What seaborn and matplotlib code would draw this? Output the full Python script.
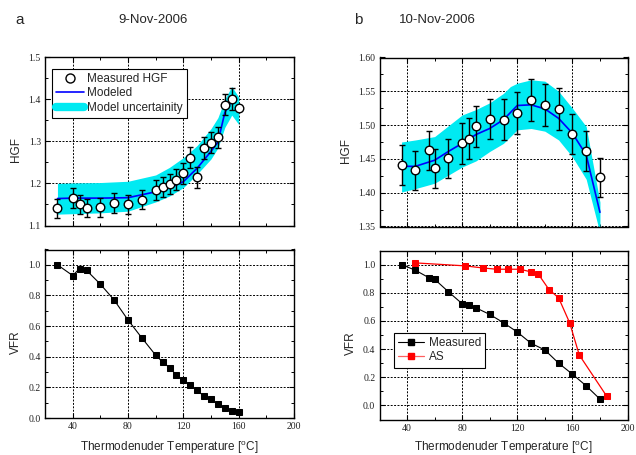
import matplotlib
matplotlib.use("Agg")
import matplotlib.pyplot as plt
import seaborn as sns
from matplotlib.ticker import MultipleLocator, FormatStrFormatter
from matplotlib.lines import Line2D

# ---------------- data ----------------
# Panel a (9-Nov-2006)
temp_a = [29, 40, 45, 50, 60, 70, 80, 90, 100, 105, 110, 115, 120, 125, 130, 135, 140, 145, 150, 155, 160]
hgf_a = [1.141, 1.165, 1.150, 1.142, 1.143, 1.153, 1.150, 1.161, 1.184, 1.191, 1.198, 1.209, 1.224,
         1.261, 1.214, 1.284, 1.297, 1.310, 1.387, 1.400, 1.380]
hgf_err_a = [0.023, 0.024, 0.023, 0.022, 0.022, 0.023, 0.023, 0.023, 0.024, 0.024, 0.024, 0.024, 0.025,
             0.025, 0.024, 0.025, 0.025, 0.025, 0.025, 0.026, 0.0]
vfr_a = [1.000, 0.930, 0.975, 0.964, 0.874, 0.770, 0.640, 0.523, 0.410, 0.366, 0.329, 0.280, 0.246,
         0.213, 0.180, 0.142, 0.121, 0.090, 0.068, 0.047, 0.037]
model_temp_a = [29, 40, 60, 80, 100, 110, 120, 130, 140, 145, 150, 155, 156]
model_a = [1.164, 1.165, 1.165, 1.166, 1.180, 1.189, 1.204, 1.236, 1.276, 1.298, 1.368, 1.396, 1.393]
band_temp_a = [29, 40, 60, 80, 100, 110, 120, 130, 140, 145, 150, 155, 160]
band_hi_a = [1.200, 1.201, 1.202, 1.205, 1.220, 1.238, 1.261, 1.290, 1.330, 1.356, 1.400, 1.430, 1.405]
band_lo_a = [1.127, 1.128, 1.130, 1.134, 1.156, 1.170, 1.190, 1.222, 1.258, 1.284, 1.333, 1.362, 1.340]

# Panel b (10-Nov-2006)
temp_b = [36, 46, 56, 60, 70, 80, 85, 90, 100, 110, 120, 130, 140, 150, 160, 170, 180]
hgf_b = [1.441, 1.433, 1.463, 1.436, 1.451, 1.473, 1.480, 1.498, 1.509, 1.508, 1.518, 1.537, 1.530,
         1.524, 1.487, 1.462, 1.423]
hgf_err_b = [0.029, 0.029, 0.029, 0.029, 0.029, 0.030, 0.030, 0.030, 0.030, 0.030, 0.031, 0.031, 0.031,
             0.031, 0.030, 0.030, 0.029]
vfr_meas_b = [1.000, 0.960, 0.906, 0.896, 0.807, 0.722, 0.710, 0.693, 0.646, 0.587, 0.521, 0.441, 0.394,
              0.300, 0.222, 0.139, 0.045]
as_temp_b = [46, 82, 95, 105, 113, 122, 130, 135, 143, 150, 158, 165, 185]
as_vfr_b = [1.012, 0.991, 0.976, 0.967, 0.967, 0.967, 0.948, 0.936, 0.823, 0.764, 0.587, 0.358, 0.064]
model_temp_b = [36, 46, 60, 70, 80, 90, 100, 110, 120, 130, 140, 150, 160, 170, 180]
model_b = [1.439, 1.439, 1.448, 1.461, 1.473, 1.486, 1.495, 1.508, 1.529, 1.530, 1.524, 1.510, 1.488,
           1.456, 1.371]
band_temp_b = [36, 46, 60, 80, 90, 100, 110, 115, 120, 130, 140, 150, 160, 170, 180]
band_hi_b = [1.475, 1.478, 1.483, 1.515, 1.523, 1.533, 1.547, 1.557, 1.562, 1.567, 1.565, 1.550, 1.525,
             1.498, 1.386]
band_lo_b = [1.401, 1.406, 1.414, 1.438, 1.447, 1.461, 1.473, 1.483, 1.493, 1.495, 1.491, 1.478, 1.453,
             1.420, 1.340]

panel_letters = ["a", "b"]
panel_dates = ["9-Nov-2006", "10-Nov-2006"]
xlabel_text = "Thermodenuder Temperature [$^{o}$C]"
legend_a_labels = ["Measured HGF", "Modeled", "Model uncertainity"]
legend_b_labels = ["Measured", "AS"]

# ---------------- style ----------------
sns.set_style("ticks")
plt.rcParams['font.family'] = ['Liberation Sans', 'DejaVu Sans']
plt.rcParams['mathtext.default'] = 'regular'

CYAN = "#00eaf2"
BLUE = "#0000ff"
RED = "#ff0000"

W, H = 636, 455
fig = plt.figure(figsize=(W / 100, H / 100), dpi=100)


def rect(l, t, w, h):
    return [l / W, 1 - (t + h) / H, w / W, h / H]


ax_a1 = fig.add_axes(rect(45, 57, 249, 168.5))
ax_a2 = fig.add_axes(rect(45, 249.5, 249, 168.5))
ax_b1 = fig.add_axes(rect(379.5, 57.5, 248, 169))
ax_b2 = fig.add_axes(rect(379.5, 250.5, 248, 169))


def style(ax, ylim, ymaj, ymin, fmt, show_x):
    ax.set_xlim(20, 200)
    ax.set_ylim(*ylim)
    ax.xaxis.set_major_locator(MultipleLocator(40))
    ax.xaxis.set_minor_locator(MultipleLocator(20))
    ax.yaxis.set_major_locator(MultipleLocator(ymaj))
    ax.yaxis.set_minor_locator(MultipleLocator(ymin))
    ax.yaxis.set_major_formatter(FormatStrFormatter(fmt))
    ax.tick_params(which='both', direction='in', top=True, right=True, color='black',
                   labelsize=7, labelfontfamily='Liberation Serif', labelcolor='#222222')
    ax.tick_params(which='major', length=3.5, width=0.8, pad=3)
    ax.tick_params(which='minor', length=2, width=0.7)
    if not show_x:
        ax.tick_params(labelbottom=False)
    ax.grid(True, which='major', color='black', linestyle=(0, (2, 1.5)), linewidth=0.7)
    ax.set_axisbelow(True)
    for s in ax.spines.values():
        s.set_color('black')
        s.set_linewidth(1.0)


style(ax_a1, (1.1, 1.5), 0.1, 0.05, '%.1f', False)
style(ax_a2, (0.0, 1.1), 0.2, 0.1, '%.1f', True)
style(ax_b1, (1.35, 1.60), 0.05, 0.025, '%.2f', False)
style(ax_b2, (-0.1, 1.1), 0.2, 0.1, '%.1f', True)

# ---------------- panel a, HGF ----------------
ax_a1.fill_between(band_temp_a, band_lo_a, band_hi_a, color=CYAN, lw=0, zorder=1)
sns.lineplot(x=model_temp_a, y=model_a, color=BLUE, lw=1.2, ax=ax_a1, sort=False,
             estimator=None, zorder=2)
ax_a1.errorbar(temp_a, hgf_a, yerr=hgf_err_a, fmt='none', ecolor='black', elinewidth=1,
               capsize=2.3, capthick=1, zorder=3)
sns.scatterplot(x=temp_a, y=hgf_a, marker='o', s=38, color='white', edgecolor='black',
                linewidth=1, ax=ax_a1, zorder=4)

# ---------------- panel b, HGF ----------------
ax_b1.fill_between(band_temp_b, band_lo_b, band_hi_b, color=CYAN, lw=0, zorder=1)
sns.lineplot(x=model_temp_b, y=model_b, color=BLUE, lw=1.2, ax=ax_b1, sort=False,
             estimator=None, zorder=2)
ax_b1.errorbar(temp_b, hgf_b, yerr=hgf_err_b, fmt='none', ecolor='black', elinewidth=1,
               capsize=2.3, capthick=1, zorder=3)
sns.scatterplot(x=temp_b, y=hgf_b, marker='o', s=38, color='white', edgecolor='black',
                linewidth=1, ax=ax_b1, zorder=4)

# ---------------- VFR panels ----------------
sns.lineplot(x=temp_a, y=vfr_a, color='black', lw=0.8, marker='s', markersize=4.5,
             markeredgecolor='black', ax=ax_a2, sort=False, estimator=None, zorder=3)
sns.lineplot(x=temp_b, y=vfr_meas_b, color='black', lw=0.8, marker='s', markersize=4.5,
             markeredgecolor='black', ax=ax_b2, sort=False, estimator=None, zorder=3)
sns.lineplot(x=as_temp_b, y=as_vfr_b, color=RED, lw=0.9, marker='s', markersize=4.5,
             markeredgecolor=RED, ax=ax_b2, sort=False, estimator=None, zorder=3)

# ---------------- labels ----------------
for ax in (ax_a1, ax_b1):
    ax.set_ylabel("HGF", fontsize=8.5)
for ax in (ax_a2, ax_b2):
    ax.set_ylabel("VFR", fontsize=8.5)
    ax.set_xlabel(xlabel_text, fontsize=8.5)
ax_a2.xaxis.set_label_coords(0.5, -0.125)
ax_b2.xaxis.set_label_coords(0.5, -0.115)
ax_a1.yaxis.set_label_coords(-0.092, 0.45)
ax_a2.yaxis.set_label_coords(-0.094, 0.45)
ax_b1.yaxis.set_label_coords(-0.111, 0.45)
ax_b2.yaxis.set_label_coords(-0.090, 0.45)

fig.text(20 / W, 1 - 20 / H, panel_letters[0], fontsize=11, ha='center', va='center')
fig.text(153 / W, 1 - 20 / H, panel_dates[0], fontsize=9.5, ha='center', va='center')
fig.text(358 / W, 1 - 20 / H, panel_letters[1], fontsize=11, ha='center', va='center')
fig.text(437 / W, 1 - 20 / H, panel_dates[1], fontsize=9.5, ha='center', va='center')

# ---------------- legends ----------------
handles_a = [
    Line2D([], [], marker='o', ls='none', mfc='white', mec='black', ms=6.5, mew=1),
    Line2D([], [], color=BLUE, lw=1.2),
    Line2D([], [], color=CYAN, lw=6, solid_capstyle='round'),
]
leg_a = ax_a1.legend(handles_a, legend_a_labels, loc='upper left', bbox_to_anchor=(0.028, 0.929),
                     borderaxespad=0, frameon=True, fancybox=False, edgecolor='black',
                     framealpha=1, fontsize=8.5, handlelength=2.4, labelspacing=0.2,
                     borderpad=0.35, handletextpad=0.2)
leg_a.get_frame().set_linewidth(0.8)
leg_a.set_zorder(10)

handles_b = [
    Line2D([], [], color='black', lw=0.8, marker='s', ms=4.5),
    Line2D([], [], color='#ff6060', lw=0.9, marker='s', ms=4.5, mfc=RED, mec=RED),
]
leg_b = ax_b2.legend(handles_b, legend_b_labels, loc='upper left', bbox_to_anchor=(0.058, 0.512),
                     borderaxespad=0, frameon=True, fancybox=False, edgecolor='black',
                     framealpha=1, fontsize=8.5, handlelength=2.2, labelspacing=0.2,
                     borderpad=0.35, handletextpad=0.4)
leg_b.get_frame().set_linewidth(0.8)
leg_b.set_zorder(10)

fig.savefig("out.png", dpi=100)
